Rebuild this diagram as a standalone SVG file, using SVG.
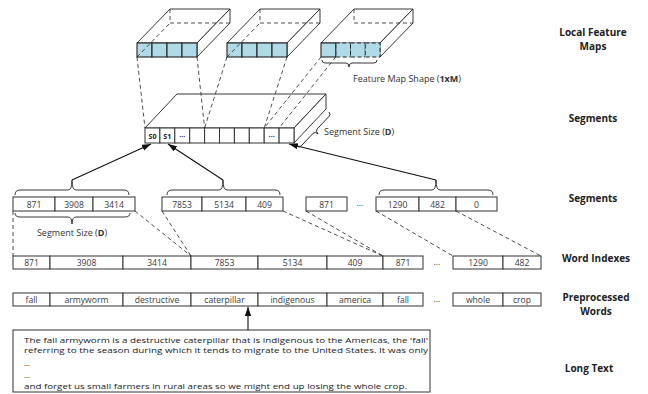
<svg xmlns="http://www.w3.org/2000/svg" width="648" height="394" viewBox="0 0 648 394">
<defs>
<style>
.ln{fill:none;stroke:#222;stroke-width:0.9}
.dash{fill:none;stroke:#222;stroke-width:0.8;stroke-dasharray:4 3}
.face{fill:#fff;stroke:#222;stroke-width:0.9}
.blue{fill:#b0dbe6;stroke:#222;stroke-width:1.1}
.blued{fill:#b0dbe6;stroke:#222;stroke-width:1;stroke-dasharray:4 2.5}
.cell{fill:#fff;stroke:#333;stroke-width:1}
.t{font-family:"Open Sans","Noto Sans",sans-serif;font-size:8.6px;fill:#3a3a3a;text-anchor:middle}
.s{font-family:"Open Sans","Noto Sans",sans-serif;font-size:7.2px;font-weight:bold;fill:#222;text-anchor:middle}
.lab{font-family:"Open Sans","Noto Sans",sans-serif;font-size:10px;font-weight:bold;fill:#222;text-anchor:middle}
.cap{font-family:"Open Sans","Noto Sans",sans-serif;font-size:9px;fill:#333}
.body{font-family:"Open Sans","Noto Sans",sans-serif;font-size:7.6px;fill:#222}
.arr{fill:none;stroke:#111;stroke-width:1.1;marker-end:url(#ah)}
</style>
<marker id="ah" viewBox="0 0 10 7" refX="10" refY="3.5" markerWidth="9" markerHeight="6.5" markerUnits="userSpaceOnUse" orient="auto">
<path d="M0,0 L10,3.5 L0,7 z" fill="#111"/>
</marker>
</defs>
<rect width="648" height="394" fill="#fff"/>

<!-- Local feature map boxes -->
<g id="fmap1">
<polygon class="face" points="137,43 170,9 230,9 197,43"/>
<polygon class="face" points="197,43 230,9 230,23 197,57"/>
<rect class="blue" x="137" y="43" width="15" height="14"/>
<rect class="blue" x="152" y="43" width="15" height="14"/>
<rect class="blue" x="167" y="43" width="15" height="14"/>
<rect class="blue" x="182" y="43" width="15" height="14"/>
<path class="dash" d="M137,57 L170,23 M170,9 V23 H230"/>
</g>
<g id="fmap2">
<polygon class="face" points="227,43 260,9 320,9 287,43"/>
<polygon class="face" points="287,43 320,9 320,23 287,57"/>
<rect class="blue" x="227" y="43" width="15" height="14"/>
<rect class="blue" x="242" y="43" width="15" height="14"/>
<rect class="blue" x="257" y="43" width="15" height="14"/>
<rect class="blue" x="272" y="43" width="15" height="14"/>
<path class="dash" d="M227,57 L260,23 M260,9 V23 H320"/>
</g>
<g id="fmap3">
<polygon class="face" points="321,43 354,9 413,9 380,43"/>
<polygon class="face" points="380,43 413,9 413,23 380,57"/>
<rect class="blued" x="335.75" y="43" width="14.75" height="14"/>
<rect class="blued" x="350.5" y="43" width="14.75" height="14"/>
<rect class="blued" x="365.25" y="43" width="14.75" height="14"/>
<rect class="blue" x="321" y="43" width="14.75" height="14"/>
<path class="dash" d="M354,9 V23 H413"/>
<path class="ln" d="M322,60 Q322,63 325,63 L346,63 Q349,63 349,67 Q349,63 352,63 L374,63 Q377,63 377,60"/>
<text class="cap" x="353" y="82">Feature Map Shape (<tspan font-weight="bold">1xM</tspan>)</text>
</g>

<!-- Segment box (3D) -->
<g id="segbox">
<path class="dash" d="M145,143 L177,109 M177,94 V109 H326"/>
<polygon class="face" points="145,128 177,94 326,94 294,128"/>
<polygon class="face" points="294,128 326,94 326,109 294,143"/>
<rect class="cell" x="145" y="128" width="14.9" height="15"/>
<rect class="cell" x="159.9" y="128" width="14.9" height="15"/>
<rect class="cell" x="174.8" y="128" width="14.9" height="15"/>
<rect class="cell" x="189.7" y="128" width="14.9" height="15"/>
<rect class="cell" x="204.6" y="128" width="14.9" height="15"/>
<rect class="cell" x="219.5" y="128" width="14.9" height="15"/>
<rect class="cell" x="234.4" y="128" width="14.9" height="15"/>
<rect class="cell" x="249.3" y="128" width="14.9" height="15"/>
<rect class="cell" x="264.2" y="128" width="14.9" height="15"/>
<rect class="cell" x="279.1" y="128" width="14.9" height="15"/>
<text class="s" x="152.5" y="138.5">S0</text>
<text class="s" x="167.4" y="138.5">S1</text>
<text class="s" x="182.3" y="136.5" font-weight="normal">...</text>
<text class="s" x="271.7" y="136.5" font-weight="normal">...</text>
<path class="ln" d="M0,0 Q0,3 3,3 L20.3,3 Q23.3,3 23.3,7 Q23.3,3 26.3,3 L43.6,3 Q46.6,3 46.6,0" transform="translate(297,146) rotate(-46.7)"/>
<text class="cap" x="324" y="135">Segment Size (<tspan font-weight="bold">D</tspan>)</text>
</g>

<!-- Segments row -->
<g id="seg1">
<rect class="cell" x="13" y="197" width="42" height="14"/>
<rect class="cell" x="55" y="197" width="38" height="14"/>
<rect class="cell" x="93" y="197" width="42" height="14"/>
<text class="t" x="34" y="207.5">871</text>
<text class="t" x="74" y="207.5">3908</text>
<text class="t" x="114" y="207.5">3414</text>
<path class="ln" d="M15,195 Q15,190 20,190 L68,190 Q72,190 72,180 Q72,190 76,190 L124,190 Q129,190 129,195"/>
<path class="ln" d="M15,213 Q15,217 20,217 L68,217 Q72,217 72,224 Q72,217 76,217 L125,217 Q130,217 130,213"/>
<text class="cap" x="72" y="236" text-anchor="middle">Segment Size (<tspan font-weight="bold">D</tspan>)</text>
</g>
<g id="seg2">
<rect class="cell" x="162" y="197" width="40" height="14"/>
<rect class="cell" x="202" y="197" width="44" height="14"/>
<rect class="cell" x="246" y="197" width="37" height="14"/>
<text class="t" x="182" y="207.5">7853</text>
<text class="t" x="224" y="207.5">5134</text>
<text class="t" x="264.5" y="207.5">409</text>
<path class="ln" d="M167,195 Q167,190 172,190 L219,190 Q223,190 223,180 Q223,190 227,190 L275,190 Q280,190 280,195"/>
</g>
<g id="seg3">
<rect class="cell" x="306" y="197" width="41" height="14"/>
<text class="t" x="326.5" y="207.5">871</text>
<text class="t" x="360" y="206">...</text>
</g>
<g id="seg4">
<rect class="cell" x="376" y="197" width="43" height="14"/>
<rect class="cell" x="419" y="197" width="37" height="14"/>
<rect class="cell" x="456" y="197" width="41" height="14"/>
<text class="t" x="397.5" y="207.5">1290</text>
<text class="t" x="437.5" y="207.5">482</text>
<text class="t" x="476.5" y="207.5">0</text>
<path class="ln" d="M379,195 Q379,190 384,190 L432,190 Q436,190 436,180 Q436,190 440,190 L488,190 Q493,190 493,195"/>
</g>

<!-- Word indexes -->
<g id="wordidx">
<rect class="cell" x="13" y="256" width="37" height="13"/>
<rect class="cell" x="50" y="256" width="73" height="13"/>
<rect class="cell" x="123" y="256" width="68" height="13"/>
<rect class="cell" x="191" y="256" width="67" height="13"/>
<rect class="cell" x="258" y="256" width="69" height="13"/>
<rect class="cell" x="327" y="256" width="56" height="13"/>
<rect class="cell" x="383" y="256" width="40" height="13"/>
<rect class="cell" x="453" y="256" width="50" height="13"/>
<rect class="cell" x="503" y="256" width="38" height="13"/>
<text class="t" x="31.5" y="266">871</text>
<text class="t" x="86.5" y="266">3908</text>
<text class="t" x="157" y="266">3414</text>
<text class="t" x="224.5" y="266">7853</text>
<text class="t" x="292.5" y="266">5134</text>
<text class="t" x="355" y="266">409</text>
<text class="t" x="403" y="266">871</text>
<text class="t" x="437" y="264.5">...</text>
<text class="t" x="478" y="266">1290</text>
<text class="t" x="522" y="266">482</text>
</g>

<!-- Preprocessed words -->
<g id="words">
<rect class="cell" x="13" y="293" width="37" height="13"/>
<rect class="cell" x="50" y="293" width="73" height="13"/>
<rect class="cell" x="123" y="293" width="68" height="13"/>
<rect class="cell" x="191" y="293" width="67" height="13"/>
<rect class="cell" x="258" y="293" width="69" height="13"/>
<rect class="cell" x="327" y="293" width="56" height="13"/>
<rect class="cell" x="383" y="293" width="40" height="13"/>
<rect class="cell" x="453" y="293" width="50" height="13"/>
<rect class="cell" x="503" y="293" width="38" height="13"/>
<text class="t" x="31.5" y="303">fall</text>
<text class="t" x="86.5" y="303">armyworm</text>
<text class="t" x="157" y="303">destructive</text>
<text class="t" x="224.5" y="303">caterpillar</text>
<text class="t" x="292.5" y="303">indigenous</text>
<text class="t" x="355" y="303">america</text>
<text class="t" x="403" y="303">fall</text>
<text class="t" x="437" y="301.5">...</text>
<text class="t" x="478" y="303">whole</text>
<text class="t" x="522" y="303">crop</text>
</g>

<!-- Long text -->
<g id="longtext">
<rect class="cell" x="13" y="330" width="417" height="62"/>
<text class="body" x="24" y="342.5" textLength="404" lengthAdjust="spacingAndGlyphs">The fall armyworm is a destructive caterpillar that is indigenous to the Americas, the 'fall'</text>
<text class="body" x="24" y="353" textLength="404" lengthAdjust="spacingAndGlyphs">referring to the season during which it tends to migrate to the United States. It was only</text>
<text class="body" x="24" y="366">...</text>
<text class="body" x="24" y="378">...</text>
<text class="body" x="24" y="389" textLength="383" lengthAdjust="spacingAndGlyphs">and forget us small farmers in rural areas so we might end up losing the whole crop.</text>
</g>

<!-- Connectors -->
<g id="connectors">
<path class="dash" d="M137,57 L145,128 M197,57 L204.6,128 M227,57 L204.6,128 M287,57 L264.2,128 M321,57 L264.2,128 M335.75,57 L279.1,128"/>
<path class="arr" d="M72,180 L151,144"/>
<path class="arr" d="M223,180 L168,144"/>
<path class="arr" d="M436,180 L289,144"/>
<path class="dash" d="M13,211 L13,256 M135,211 L191,256 M162,211 L191,256 M283,211 L383,256 M306,211 L383,256 M376,211 L453,256 M456,211 L541,256"/>
<path class="arr" d="M248,330 L248,307"/>
</g>

<!-- Row labels -->
<g id="labels">
<text class="lab" x="593" y="35.5">Local Feature</text>
<text class="lab" x="593" y="49.5">Maps</text>
<text class="lab" x="593" y="122">Segments</text>
<text class="lab" x="593" y="202">Segments</text>
<text class="lab" x="596" y="262">Word Indexes</text>
<text class="lab" x="596" y="301">Preprocessed</text>
<text class="lab" x="596" y="315">Words</text>
<text class="lab" x="589" y="372">Long Text</text>
</g>
</svg>
